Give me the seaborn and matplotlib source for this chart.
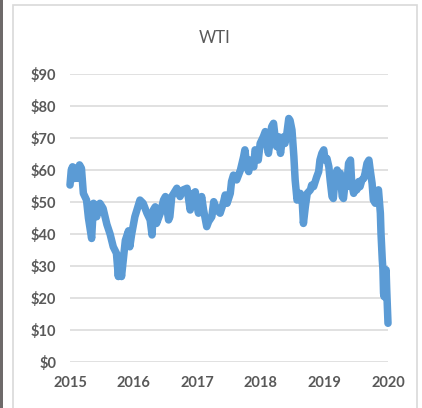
import matplotlib
matplotlib.use("Agg")
import matplotlib.pyplot as plt
import matplotlib.patches as patches
import pandas as pd
import seaborn as sns

# WTI price (x = position along the year axis)
year_pos = [
    2015.00, 2015.02, 2015.04, 2015.06, 2015.09, 2015.12, 2015.15, 2015.18, 2015.21, 2015.26,
    2015.29, 2015.34, 2015.37, 2015.42, 2015.47, 2015.52, 2015.58, 2015.63, 2015.68, 2015.73,
    2015.76, 2015.78, 2015.81, 2015.87, 2015.92, 2015.94, 2015.97, 2016.02, 2016.10, 2016.15,
    2016.21, 2016.26, 2016.29, 2016.31, 2016.34, 2016.36, 2016.42, 2016.47, 2016.50, 2016.52,
    2016.55, 2016.57, 2016.60, 2016.63, 2016.68, 2016.73, 2016.78, 2016.84, 2016.89, 2016.94,
    2016.97, 2016.99, 2017.02, 2017.05, 2017.07, 2017.10, 2017.15, 2017.18, 2017.23, 2017.26,
    2017.31, 2017.36, 2017.41, 2017.44, 2017.47, 2017.52, 2017.54, 2017.57, 2017.62, 2017.68,
    2017.73, 2017.75, 2017.78, 2017.81, 2017.83, 2017.89, 2017.91, 2017.94, 2017.96, 2017.99,
    2018.04, 2018.07, 2018.10, 2018.12, 2018.15, 2018.17, 2018.20, 2018.23, 2018.25, 2018.28,
    2018.31, 2018.33, 2018.36, 2018.38, 2018.41, 2018.44, 2018.46, 2018.49, 2018.52, 2018.54,
    2018.57, 2018.59, 2018.62, 2018.65, 2018.67, 2018.70, 2018.73, 2018.78, 2018.80, 2018.83,
    2018.88, 2018.91, 2018.93, 2018.96, 2018.99, 2019.01, 2019.04, 2019.07, 2019.09, 2019.12,
    2019.14, 2019.17, 2019.20, 2019.22, 2019.25, 2019.28, 2019.30, 2019.33, 2019.35, 2019.38,
    2019.41, 2019.43, 2019.46, 2019.49, 2019.51, 2019.54, 2019.56, 2019.59, 2019.62, 2019.64,
    2019.67, 2019.70, 2019.72, 2019.75, 2019.77, 2019.80, 2019.83, 2019.85, 2019.88, 2019.89,
    2019.91, 2019.92, 2019.93, 2019.94, 2019.96, 2019.97, 2019.98, 2020.00,
]
wti_price = [
    55.3, 60.0, 61.0, 57.3, 60.5, 57.4, 61.6, 60.5, 52.7, 50.6,
    45.0, 38.6, 49.6, 45.4, 49.6, 48.0, 43.0, 40.0, 36.0, 34.0,
    26.7, 33.0, 26.7, 38.0, 41.0, 36.0, 40.0, 45.4, 50.6, 49.6,
    46.5, 44.4, 39.7, 47.5, 48.5, 43.3, 46.5, 50.6, 51.7, 48.5,
    44.4, 45.4, 51.7, 52.7, 54.3, 51.7, 53.8, 54.3, 47.5, 52.7,
    53.2, 49.6, 46.5, 49.6, 51.7, 47.5, 42.3, 43.9, 45.4, 50.1,
    47.5, 46.5, 49.6, 52.2, 49.6, 52.7, 56.4, 58.4, 56.9, 60.0,
    64.2, 66.3, 61.0, 59.5, 63.1, 61.0, 66.3, 65.2, 63.1, 68.3,
    70.4, 72.0, 67.3, 65.2, 69.4, 73.5, 74.6, 69.4, 67.3, 70.4,
    65.2, 68.3, 70.4, 68.3, 71.5, 76.1, 75.5, 72.5, 64.2, 56.9,
    50.6, 51.7, 52.7, 50.6, 43.3, 48.5, 52.7, 53.8, 55.3, 54.8,
    57.9, 59.5, 63.1, 65.2, 66.3, 63.1, 63.6, 61.0, 56.9, 51.7,
    51.1, 57.9, 60.0, 55.8, 59.0, 51.7, 51.1, 56.9, 54.8, 62.1,
    63.1, 55.8, 52.7, 54.8, 53.8, 56.4, 54.8, 56.9, 57.4, 59.0,
    62.1, 63.1, 60.0, 55.8, 50.6, 49.6, 53.2, 53.8, 46.5, 40.2,
    31.9, 29.0, 21.5, 20.4, 26.7, 28.8, 22.5, 12.1,
]
year_labels = ["2015", "2016", "2017", "2018", "2019", "2020"]
price_ticks = [0, 10, 20, 30, 40, 50, 60, 70, 80, 90]

df = pd.DataFrame({"pos": year_pos, "price": wti_price})

sns.set_style("white")
plt.rcParams["font.family"] = ["Lato", "DejaVu Sans"]

W, H = 422, 408
fig = plt.figure(figsize=(W / 100, H / 100), dpi=100)

# outer frame like an Excel chart box
fig.patches.append(patches.Rectangle((13 / W, -0.05), 404 / W, 1 - 5 / H + 0.05,
                                     transform=fig.transFigure, fill=False,
                                     edgecolor="#D9D9D9", linewidth=1.2))
fig.patches.append(patches.Rectangle((0, 0), 2.5 / W, 1, transform=fig.transFigure,
                                     facecolor="#6E6A6A", edgecolor="none"))

ax = fig.add_axes([70 / W, 1 - 362 / H, 318 / W, 288 / H])
sns.lineplot(data=df, x="pos", y="price", ax=ax, color="#5B9BD5", linewidth=5.4,
             solid_capstyle="round", solid_joinstyle="round", clip_on=False, zorder=3)

ax.set_xlim(2015, 2020)
ax.set_ylim(0, 90)
ax.set_yticks(price_ticks)
ax.set_yticklabels([f"${v}" for v in price_ticks])
ax.set_xticks([2015, 2016, 2017, 2018, 2019, 2020])
ax.set_xticklabels(year_labels)
ax.tick_params(length=0, labelsize=10.5, labelcolor="#595959")
ax.tick_params(axis="y", pad=10)
ax.tick_params(axis="x", pad=10)
for lbl in ax.get_xticklabels() + ax.get_yticklabels():
    lbl.set_fontweight("bold")
ax.grid(axis="y", color="#D9D9D9", linewidth=1.1)
ax.set_axisbelow(True)
for s in ax.spines.values():
    s.set_visible(False)
ax.set_xlabel("")
ax.set_ylabel("")

fig.text(215 / W, 1 - 38 / H, "WTI", ha="center", va="center", fontsize=12, color="#595959")

fig.savefig("out.png", dpi=100)
